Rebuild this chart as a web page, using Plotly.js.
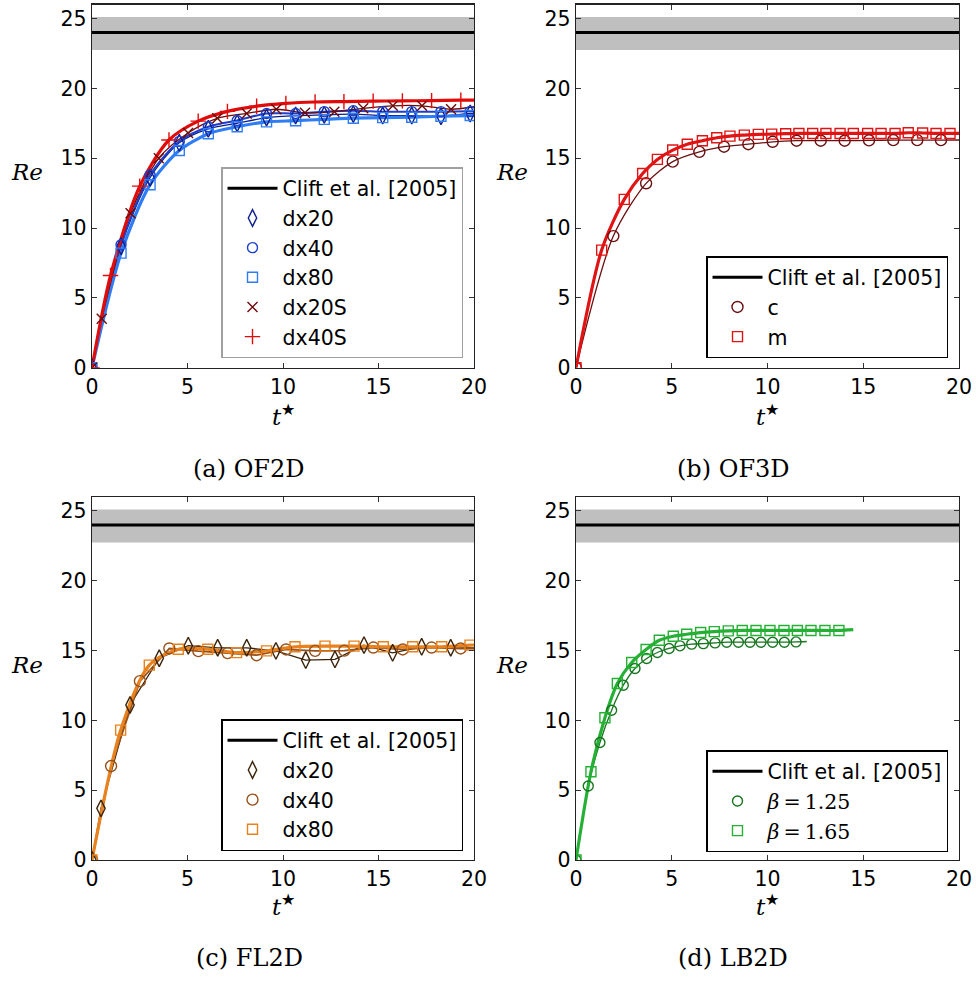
<!DOCTYPE html>
<html>
<head>
<meta charset="utf-8">
<script src="https://cdn.plot.ly/plotly-3.0.1.min.js"></script>
<style>html,body{margin:0;padding:0;background:#fff;}#plot{width:976px;height:983px;}</style>
</head>
<body>
<div id="plot"></div>
<script>
// ---------- data ----------
const xTicks = [0, 5, 10, 15, 20];
const yTicks = [0, 5, 10, 15, 20, 25];
const tRange = [0, 20];
const cliftRe = 24;
const cliftBand = [22.75, 25.1];
const cliftName = 'Clift et al. [2005]';

// (a) OF2D
const a_dx20_t  = [0, 1.52, 3.04, 4.57, 6.09, 7.6, 9.14, 10.66, 12.16, 13.68, 15.22, 16.74, 18.27, 19.8, 20];
const a_dx20_re = [0, 8.7, 13.6, 16.1, 17.1, 17.5, 17.9, 18.05, 18.1, 18.15, 18.05, 18.05, 18.0, 18.2, 18.2];
const a_dx40_t  = [0, 1.52, 3.04, 4.57, 6.09, 7.6, 9.14, 10.66, 12.16, 13.68, 15.22, 16.74, 18.27, 19.8, 20];
const a_dx40_re = [0, 8.8, 13.8, 16.2, 17.25, 17.7, 18.2, 18.2, 18.33, 18.4, 18.33, 18.33, 18.33, 18.35, 18.35];
const a_dx80_t  = [0, 1.52, 3.04, 4.57, 6.09, 7.6, 9.14, 10.66, 12.16, 13.68, 15.22, 16.74, 18.27, 19.8, 20];
const a_dx80_re = [0, 8.2, 13.1, 15.55, 16.75, 17.25, 17.6, 17.68, 17.78, 17.86, 17.9, 17.93, 18.0, 18.05, 18.05];
const a_dx20S_t  = [0, 0.51, 2.02, 3.5, 5.03, 6.56, 8.1, 9.65, 11.15, 12.69, 14.2, 15.75, 17.28, 18.8, 20];
const a_dx20S_re = [0, 3.5, 11.05, 15.0, 16.8, 17.85, 18.2, 18.5, 18.25, 18.33, 18.57, 18.75, 18.75, 18.5, 18.68];
const a_dx40S_t  = [0, 0.97, 2.5, 4.03, 5.56, 7.09, 8.62, 10.15, 11.68, 13.19, 14.72, 16.25, 17.78, 19.31, 20];
const a_dx40S_re = [0, 6.6, 13.0, 16.3, 17.65, 18.35, 18.72, 18.92, 19.02, 19.05, 19.08, 19.1, 19.12, 19.15, 19.15];

// (b) OF3D
const b_c_t  = [0, 1.95, 3.66, 5.05, 6.44, 7.73, 9.0, 10.27, 11.52, 12.78, 14.03, 15.3, 16.57, 17.82, 19.06, 20];
const b_c_re = [0, 9.42, 13.2, 14.75, 15.45, 15.82, 16.0, 16.17, 16.25, 16.25, 16.25, 16.27, 16.29, 16.29, 16.29, 16.3];
const b_m_t  = [0, 1.34, 2.52, 3.48, 4.25, 5.05, 5.81, 6.6, 7.35, 8.04, 8.79, 9.52, 10.22, 10.95, 11.64, 12.36, 13.05, 13.79, 14.48, 15.23, 15.93, 16.66, 17.35, 18.1, 18.8, 19.53, 20];
const b_m_re = [0, 8.42, 12.05, 13.9, 14.91, 15.58, 16.0, 16.25, 16.46, 16.58, 16.65, 16.7, 16.72, 16.75, 16.77, 16.77, 16.77, 16.77, 16.77, 16.77, 16.77, 16.77, 16.82, 16.8, 16.77, 16.77, 16.77];

// (c) FL2D
const c_dx20_t  = [0, 0.47, 1.99, 3.52, 5.04, 6.58, 8.1, 9.63, 11.19, 12.72, 14.24, 15.74, 17.26, 18.78, 20];
const c_dx20_re = [0, 3.7, 11.1, 14.45, 15.35, 15.2, 15.2, 14.98, 14.32, 14.37, 15.39, 14.84, 15.27, 15.2, 15.2];
const c_dx40_t  = [0, 1.0, 2.51, 4.05, 5.57, 7.1, 8.62, 10.16, 11.68, 13.21, 14.73, 16.27, 17.78, 19.3, 20];
const c_dx40_re = [0, 6.73, 12.81, 15.15, 14.96, 14.82, 14.67, 15.08, 14.98, 15.0, 15.22, 15.08, 15.22, 15.15, 15.15];
const c_dx80_t  = [0, 1.5, 3.0, 4.52, 6.06, 7.57, 9.14, 10.63, 12.2, 13.72, 15.25, 16.79, 18.31, 19.79, 20];
const c_dx80_re = [0, 9.3, 13.96, 15.1, 15.1, 14.85, 14.98, 15.27, 15.32, 15.32, 15.27, 15.27, 15.27, 15.39, 15.4];

// (d) LB2D
const d_b125_t  = [0, 0.64, 1.25, 1.86, 2.47, 3.08, 3.69, 4.25, 4.86, 5.43, 6.04, 6.65, 7.26, 7.87, 8.48, 9.09, 9.66, 10.27, 10.88, 11.49, 12.05];
const d_b125_re = [0, 5.3, 8.42, 10.73, 12.52, 13.72, 14.43, 14.86, 15.15, 15.34, 15.46, 15.5, 15.55, 15.6, 15.6, 15.6, 15.6, 15.6, 15.6, 15.62, 15.65];
const d_b165_t  = [0, 0.78, 1.51, 2.16, 2.91, 3.66, 4.35, 5.08, 5.78, 6.51, 7.22, 7.95, 8.68, 9.4, 10.13, 10.86, 11.56, 12.27, 13.0, 13.73, 14.48];
const d_b165_re = [0, 6.32, 10.19, 12.64, 14.15, 15.08, 15.74, 16.03, 16.17, 16.29, 16.36, 16.41, 16.44, 16.44, 16.44, 16.44, 16.44, 16.44, 16.44, 16.44, 16.5];

// ---------- build ----------
const SANS = 'DejaVu Sans';
const SERIF = 'DejaVu Serif';
const FS = 20.5;

const panels = [
  {ax: '', leg: 'legend', series: [
    {name: 'dx20',  t: a_dx20_t,  re: a_dx20_re,  color: '#0d1f8a', lw: 1.3, sym: 'diamond-tall-open', ms: 12, shape: 'spline'},
    {name: 'dx40',  t: a_dx40_t,  re: a_dx40_re,  color: '#1c3fd0', lw: 2,   sym: 'circle-open',       ms: 10, shape: 'spline'},
    {name: 'dx80',  t: a_dx80_t,  re: a_dx80_re,  color: '#2f7df5', lw: 3.2, sym: 'square-open',       ms: 10, shape: 'spline'},
    {name: 'dx20S', t: a_dx20S_t, re: a_dx20S_re, color: '#6e0a0a', lw: 1.3, sym: 'x-thin-open',       ms: 10, shape: 'spline'},
    {name: 'dx40S', t: a_dx40S_t, re: a_dx40S_re, color: '#e00b0b', lw: 3.2, sym: 'cross-thin-open',   ms: 11, shape: 'spline'}
  ]},
  {ax: '2', leg: 'legend2', series: [
    {name: 'c', t: b_c_t, re: b_c_re, color: '#6b1010', lw: 1.3, sym: 'circle-open', ms: 11, shape: 'spline'},
    {name: 'm', t: b_m_t, re: b_m_re, color: '#e01414', lw: 3.2, sym: 'square-open', ms: 10, shape: 'spline'}
  ]},
  {ax: '3', leg: 'legend3', series: [
    {name: 'dx20', t: c_dx20_t, re: c_dx20_re, color: '#3b2208', lw: 1.3, sym: 'diamond-tall-open', ms: 12, shape: 'linear'},
    {name: 'dx40', t: c_dx40_t, re: c_dx40_re, color: '#96501a', lw: 1.8, sym: 'circle-open',       ms: 11, shape: 'linear'},
    {name: 'dx80', t: c_dx80_t, re: c_dx80_re, color: '#e8821e', lw: 3.2, sym: 'square-open',       ms: 10, shape: 'spline'}
  ]},
  {ax: '4', leg: 'legend4', series: [
    {name: '<span style="font-family:DejaVu Serif"><i>β</i>\u2009=\u20091.25</span>', t: d_b125_t, re: d_b125_re, color: '#17751f', lw: 1.3, sym: 'circle-open', ms: 10, shape: 'spline'},
    {name: '<span style="font-family:DejaVu Serif"><i>β</i>\u2009=\u20091.65</span>', t: d_b165_t, re: d_b165_re, color: '#25b035', lw: 3.2, sym: 'square-open', ms: 10, shape: 'spline'}
  ]}
];

const traces = [];
panels.forEach(p => {
  const xa = 'x' + p.ax, ya = 'y' + p.ax;
  // band
  traces.push({x: [tRange[0], tRange[1], tRange[1], tRange[0]], y: [cliftBand[0], cliftBand[0], cliftBand[1], cliftBand[1]],
    xaxis: xa, yaxis: ya, mode: 'lines', fill: 'toself', fillcolor: '#bfbfbf', line: {width: 0, color: '#bfbfbf'},
    showlegend: false, hoverinfo: 'skip'});
  // clift line
  traces.push({x: tRange, y: [cliftRe, cliftRe], xaxis: xa, yaxis: ya, mode: 'lines', name: cliftName,
    line: {color: '#000', width: 3}, legend: p.leg, showlegend: true});
  // lines
  p.series.forEach(s => {
    traces.push({x: s.t, y: s.re, xaxis: xa, yaxis: ya, mode: 'lines',
      line: {color: s.color, width: s.lw, shape: s.shape, smoothing: 0.8}, showlegend: false, hoverinfo: 'skip'});
  });
  // markers (every plotted point except the line end)
  p.series.forEach(s => {
    traces.push({x: s.t.slice(0, -1), y: s.re.slice(0, -1), xaxis: xa, yaxis: ya, mode: 'markers', name: s.name,
      marker: {symbol: s.sym, size: s.ms, color: s.color, line: {color: s.color, width: 1.4}},
      legend: p.leg, showlegend: true});
  });
});

const W = 976, H = 983;
const colX = [[92 / W, 474 / W], [576 / W, 959 / W]];
const rowY = [[1 - 367.7 / H, 1 - 4.5 / H], [1 - 860 / H, 1 - 497 / H]];

function xAxis(dom, anchor) {
  return {domain: dom, anchor: anchor, range: tRange, tickvals: xTicks, ticktext: xTicks.map(String),
    ticks: 'inside', ticklen: 5, tickwidth: 1, tickcolor: '#333', mirror: 'ticks', showline: true,
    linecolor: '#222', linewidth: 1.3, showgrid: false, zeroline: false, tickfont: {family: SANS, size: FS, color: '#000'}};
}
function yAxis(dom, anchor) {
  return {domain: dom, anchor: anchor, range: [0, 26], tickvals: yTicks, ticktext: yTicks.map(String),
    ticks: 'inside', ticklen: 5, tickwidth: 1, tickcolor: '#333', mirror: 'ticks', showline: true,
    linecolor: '#222', linewidth: 1.3, showgrid: false, zeroline: false, tickfont: {family: SANS, size: FS, color: '#000'}};
}

function legendAt(xr, yb, border) {
  return {x: xr / W, y: 1 - yb / H, xanchor: 'right', yanchor: 'bottom', xref: 'paper', yref: 'paper',
    bgcolor: '#fff', bordercolor: border, borderwidth: 1.5, font: {family: SANS, size: FS, color: '#000'},
    itemwidth: 50, traceorder: 'normal'};
}

const captions = ['(a) OF2D', '(b) OF3D', '(c) FL2D', '(d) LB2D'];
const capPos = [[249, 469], [733, 469], [249, 958], [733, 958]];
const rePos = [[27, 172], [512, 172], [27, 665], [512, 665]];
const tPos = [[283, 415], [767, 415], [283, 905], [767, 905]];

const annotations = [];
for (let i = 0; i < 4; i++) {
  annotations.push({text: captions[i], x: capPos[i][0] / W, y: 1 - capPos[i][1] / H, xref: 'paper', yref: 'paper',
    xanchor: 'center', yanchor: 'middle', showarrow: false, font: {family: SERIF, size: 24, color: '#000'}});
  annotations.push({text: '<i>Re</i>', x: rePos[i][0] / W, y: 1 - rePos[i][1] / H, xref: 'paper', yref: 'paper',
    xanchor: 'center', yanchor: 'middle', showarrow: false, font: {family: SERIF, size: 23, color: '#000'}});
  annotations.push({text: '<i>t</i><sup>★</sup>', x: tPos[i][0] / W, y: 1 - tPos[i][1] / H, xref: 'paper', yref: 'paper',
    xanchor: 'center', yanchor: 'middle', showarrow: false, font: {family: SERIF, size: 23, color: '#000'}});
}

const layout = {
  width: W, height: H, margin: {l: 0, r: 0, t: 0, b: 0}, paper_bgcolor: '#fff', plot_bgcolor: '#fff',
  xaxis: xAxis(colX[0], 'y'), yaxis: yAxis(rowY[0], 'x'),
  xaxis2: xAxis(colX[1], 'y2'), yaxis2: yAxis(rowY[0], 'x2'),
  xaxis3: xAxis(colX[0], 'y3'), yaxis3: yAxis(rowY[1], 'x3'),
  xaxis4: xAxis(colX[1], 'y4'), yaxis4: yAxis(rowY[1], 'x4'),
  legend: legendAt(463, 358, '#a0a0a0'),
  legend2: legendAt(948, 358, '#000'),
  legend3: legendAt(463, 851, '#000'),
  legend4: legendAt(948, 852, '#000'),
  annotations: annotations,
  showlegend: true
};

Plotly.newPlot('plot', traces, layout, {staticPlot: true, displayModeBar: false});
</script>
</body>
</html>
